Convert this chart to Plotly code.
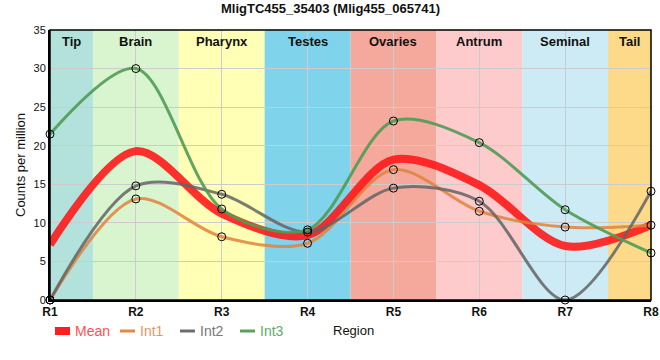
import plotly.graph_objects as go

regions = ["R1", "R2", "R3", "R4", "R5", "R6", "R7", "R8"]
mean_vals = [7.2, 19.3, 11.2, 8.4, 18.2, 14.9, 7.0, 9.7]
int1_vals = [0.0, 13.1, 8.2, 7.35, 16.9, 11.5, 9.45, 9.7]
int2_vals = [0.0, 14.8, 13.7, 8.8, 14.5, 12.8, 0.0, 14.1]
int3_vals = [21.5, 30.0, 11.8, 9.1, 23.2, 20.4, 11.7, 6.1]

band_names = ["Tip", "Brain", "Pharynx", "Testes", "Ovaries", "Antrum", "Seminal", "Tail"]
band_colors = ["#b3e2dd", "#d9f5d0", "#ffffb5", "#7fd3ea", "#f5a99c", "#fdcbcb", "#cdebf4", "#fdd98a"]

xs = list(range(len(regions)))
SMOOTH = 0.9

# plot area in px
L, R, T, B = 50, 651, 30, 300
W, H = R - L, B - T
def px(xp):
    return (xp - L) / W
def py(yp):
    return (B - yp) / H

FONT = "Liberation Sans, Arial"
fig = go.Figure()

fig.add_trace(go.Scatter(x=xs, y=mean_vals, mode="lines", name="Mean",
                         line=dict(color="rgba(255,20,20,0.88)", width=8, shape="spline", smoothing=SMOOTH),
                         hoverinfo="skip", showlegend=False))
series = [("Int1", int1_vals, "rgba(224,130,60,0.85)"),
          ("Int2", int2_vals, "rgba(100,100,100,0.85)"),
          ("Int3", int3_vals, "rgba(80,155,85,0.9)")]
for name, vals, col in series:
    fig.add_trace(go.Scatter(x=xs, y=vals, mode="lines", name=name,
                             line=dict(color=col, width=3, shape="spline", smoothing=SMOOTH),
                             showlegend=False))
for name, vals, col in series:
    fig.add_trace(go.Scatter(x=xs, y=vals, mode="markers", name=name,
                             marker=dict(symbol="circle-open", size=8, color="black",
                                         line=dict(width=1, color="black")),
                             showlegend=False, cliponaxis=False))

shapes = []
annotations = []
for i, (nm, col) in enumerate(zip(band_names, band_colors)):
    x0 = max(i - 0.5, 0)
    x1 = min(i + 0.5, len(regions) - 1)
    shapes.append(dict(type="rect", xref="x", yref="paper", x0=x0, x1=x1, y0=0, y1=1,
                       fillcolor=col, line=dict(width=0), layer="below"))
    annotations.append(dict(x=(x0 + x1) / 2, y=py(41), xref="x", yref="paper", text="<b>%s</b>" % nm,
                            showarrow=False, font=dict(size=13, color="#111", family=FONT),
                            xanchor="center", yanchor="middle"))

# frame
shapes.append(dict(type="rect", xref="paper", yref="paper", x0=0, x1=1, y0=0, y1=1,
                   line=dict(color="black", width=1.5), layer="above"))

# custom legend
legend_items = [("Mean", "rgb(255,30,30)", 8, 55, "rgb(255,80,80)"),
                ("Int1", "rgb(224,137,74)", 3, 120, "rgb(230,150,95)"),
                ("Int2", "rgb(110,110,110)", 3, 180, "rgb(120,120,120)"),
                ("Int3", "rgb(90,160,95)", 3, 240, "rgb(100,170,105)")]
ly = 331
for nm, col, w, x0p, tcol in legend_items:
    shapes.append(dict(type="line", xref="paper", yref="paper", x0=px(x0p), x1=px(x0p + 15),
                       y0=py(ly), y1=py(ly), line=dict(color=col, width=w)))
    annotations.append(dict(x=px(x0p + 18), y=py(ly), xref="paper", yref="paper", text=nm,
                            showarrow=False, xanchor="left", yanchor="middle",
                            font=dict(size=14, color=tcol, family=FONT)))
annotations.append(dict(x=px(331), y=py(ly), xref="paper", yref="paper", text="Region",
                        showarrow=False, xanchor="left", yanchor="middle",
                        font=dict(size=13, color="#111", family=FONT)))
annotations.append(dict(x=px(330), y=py(8), xref="paper", yref="paper",
                        text="<b>MligTC455_35403 (Mlig455_065741)</b>",
                        showarrow=False, xanchor="center", yanchor="middle",
                        font=dict(size=13, color="#111", family=FONT)))
annotations.append(dict(x=px(20), y=py(165), xref="paper", yref="paper",
                        text="Counts per million", textangle=-90,
                        showarrow=False, xanchor="center", yanchor="middle",
                        font=dict(size=13, color="#111", family=FONT)))

fig.update_layout(
    width=660, height=360,
    margin=dict(l=L, r=660 - R, t=T, b=360 - B, autoexpand=False),
    paper_bgcolor="white", plot_bgcolor="white",
    shapes=shapes, annotations=annotations,
    font=dict(family=FONT, size=12, color="#111"),
    showlegend=False,
    xaxis=dict(range=[0, len(regions) - 1], tickmode="array", tickvals=xs,
               ticktext=["<b>%s</b>" % r for r in regions], automargin=False,
               showgrid=True, gridcolor="#cccccc", gridwidth=1,
               showline=True, linecolor="black", linewidth=2,
               ticks="", zeroline=False, tickfont=dict(size=12)),
    yaxis=dict(range=[0, 35], tickmode="linear", tick0=0, dtick=5, automargin=False,
               showgrid=True, gridcolor="#cccccc", gridwidth=1,
               showline=True, linecolor="black", linewidth=2,
               ticks="", zeroline=False, tickfont=dict(size=11)),
)

fig.write_html("out.html", config={"displayModeBar": False},
               post_script="document.body.style.margin='0';document.body.style.overflow='hidden';")
